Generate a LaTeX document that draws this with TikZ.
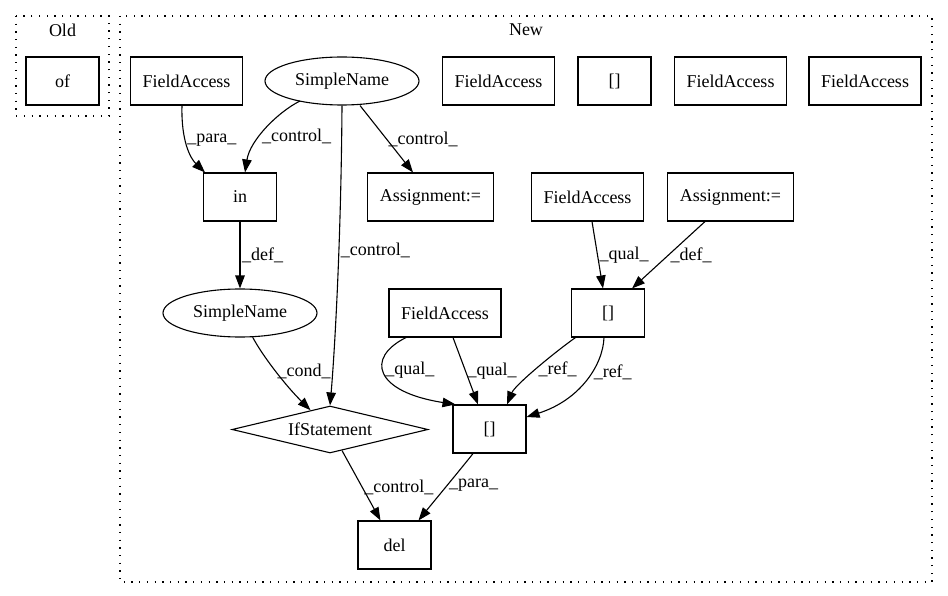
\documentclass[tikz,border=0pt]{standalone}
\usepackage{fontspec}
\setmainfont{Liberation Serif}
\usetikzlibrary{shapes.geometric}
\usetikzlibrary{arrows.meta}
\tikzset{
  box/.style={rectangle, draw, line width=1.1pt, minimum width=73pt, minimum height=48pt, inner xsep=12pt},
  simple/.style={ellipse, draw, line width=1.1pt, minimum width=154pt, minimum height=48pt, inner sep=0pt},
  decision/.style={diamond, draw, line width=1.1pt, minimum width=196pt, minimum height=47pt, aspect=4, inner sep=1pt},
  cluster/.style={draw, line width=1.3pt, dash pattern=on 1.3pt off 6.4pt},
  arrow/.style={draw, line width=1.1pt, -{Triangle[length=13pt,width=9.5pt]}},
  lbl/.style={anchor=west, inner sep=1.5pt}
  }

\begin{document}
\begin{tikzpicture}[x=1pt, y=-1pt, font=\fontsize{18}{21}\selectfont]
	\useasboundingbox (0,0) rectangle (948,596);
	% Frame
	\draw[cluster] (16,16) rectangle (109,116);
	\node (old) at (62.5,30) {Old};
	\draw[cluster] (120,16) rectangle (932,582);
	\node (new) at (526,30) {New};

	% Nodes
	\node[box] (of) at (62.5,81) {of};
	\node[box] (fa1) at (186.5,81) {FieldAccess};
	\node[simple] (sn1) at (342,81) {SimpleName};
	\node[box] (fa2) at (498.5,81) {FieldAccess};
	\node[box] (br1) at (614.5,81) {[]};
	\node[box] (fa3) at (730.5,81) {FieldAccess};
	\node[box] (fa4) at (865,81) {FieldAccess};
	\node[box] (in) at (240,197) {in};
	\node[box] (as1) at (430.5,197) {Assignment:=};
	\node[box] (fa5) at (587.5,197) {FieldAccess};
	\node[box] (as2) at (730.5,197) {Assignment:=};
	\node[simple] (sn2) at (240,313) {SimpleName};
	\node[box] (fa6) at (445,313) {FieldAccess};
	\node[box] (br2) at (608,313) {[]};
	\node[decision] (if) at (330,429.5) {IfStatement};
	\node[box] (br3) at (489.5,429) {[]};
	\node[box] (del) at (394.5,545) {del};

	% Arrow
	\draw [arrow] ([xshift=-4.5pt]fa1.south) .. controls (181,140) and (190,158) .. ([xshift=-35pt]in.north) node[lbl, pos=0.4]{\_para\_};
	\draw [arrow] ([shift={(-42pt,-20pt)}]sn1.center) .. controls (278,112) and (250,140) .. ([xshift=5pt]in.north) node[lbl, pos=0.6]{\_control\_};
	\draw [arrow] ([xshift=18pt]sn1.south) -- node[lbl, pos=0.5]{\_control\_} ([xshift=-17.5pt]as1.north);
	\draw [arrow] (sn1.south) .. controls (341,250) and (334,360) .. (if.north) node[lbl, pos=0.37]{\_control\_};
	\draw [arrow] (in) -- node[lbl]{\_def\_} (sn2);
	\draw [arrow] ([xshift=4.5pt]fa5.south) -- node[lbl]{\_qual\_} ([xshift=-5pt]br2.north);
	\draw [arrow] ([xshift=-25.5pt]as2.south) -- node[lbl]{\_def\_} ([xshift=24pt]br2.north);
	\draw [arrow] (sn2) .. controls (262,355) and (285,385) .. (if) node[lbl, pos=0.5]{\_cond\_};
	\draw [arrow] ([xshift=-39pt]fa6.south) .. controls (365,358) and (375,392) .. ([xshift=-34pt]br3.north) node[lbl, pos=0.45]{\_qual\_};
	\draw [arrow] ([xshift=8pt]fa6.south) -- node[lbl]{\_qual\_} ([xshift=-11.5pt]br3.north);
	\draw [arrow] ([xshift=-32.5pt]br2.south) .. controls (555,352) and (515,385) .. ([xshift=17.5pt]br3.north) node[lbl, pos=0.5]{\_ref\_};
	\draw [arrow] ([xshift=-4pt]br2.south) .. controls (603,365) and (580,400) .. ([yshift=12pt]br3.east) node[lbl, pos=0.4]{\_ref\_};
	\draw [arrow] ([shift={(12pt,3pt)}]if.south) -- node[lbl, pos=0.53]{\_control\_} ([xshift=-14pt]del.north);
	\draw [arrow] ([xshift=-16.5pt]br3.south) .. controls (460,470) and (435,500) .. ([xshift=24pt]del.north) node[lbl, pos=0.5]{\_para\_};
\end{tikzpicture}
\end{document}
